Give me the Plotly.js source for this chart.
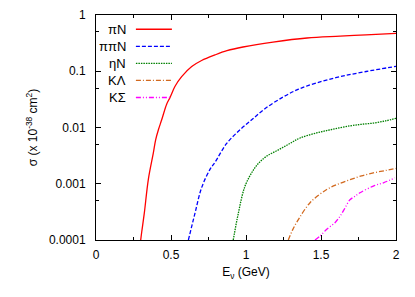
<!DOCTYPE html>
<html>
<head>
<meta charset="utf-8">
<script src="https://cdn.plot.ly/plotly-3.0.1.min.js"></script>
<style>html,body{margin:0;padding:0;background:#fff;}#chart{width:415px;height:297px;}</style>
</head>
<body>
<div id="chart"></div>
<script>
// Series names (legend)
const names = ['πN', 'ππN', 'ηN', 'KΛ', 'KΣ'];
const colors = ['#ff0000', '#0000ff', '#008000', '#d2691e', '#ff00ff'];
const dashes = ['solid', '4px,2px', '1.5px,1px', '5px,2px,1px,2px', '5px,2px,1px,2px,1px,2px'];

// πN
const E_piN = [0.298, 0.305, 0.322, 0.349, 0.382, 0.398, 0.416, 0.438, 0.471, 0.493, 0.527, 0.571, 0.638, 0.704, 0.793, 0.873, 0.98, 1.18, 1.407, 1.627, 1.80, 2.0];
const S_piN = [1e-4, 1.4e-4, 3.0e-4, 1.2e-3, 3.5e-3, 6.1e-3, 9.1e-3, 0.0137, 0.026, 0.034, 0.054, 0.08, 0.121, 0.155, 0.195, 0.232, 0.27, 0.33, 0.39, 0.42, 0.445, 0.47];
// ππN
const E_pipiN = [0.616, 0.66, 0.704, 0.76, 0.793, 0.871, 0.96, 1.038, 1.13, 1.249, 1.35, 1.47, 1.627, 1.80, 2.0];
const S_pipiN = [1e-4, 3.0e-4, 8.5e-4, 1.8e-3, 2.4e-3, 5.2e-3, 9.1e-3, 0.0137, 0.022, 0.035, 0.048, 0.062, 0.08, 0.099, 0.122];
// ηN
const E_etaN = [0.915, 0.949, 0.993, 1.049, 1.093, 1.138, 1.216, 1.293, 1.36, 1.47, 1.58, 1.693, 1.77, 1.85, 1.93, 2.0];
const S_etaN = [1e-4, 3.0e-4, 9.0e-4, 1.75e-3, 2.45e-3, 3.1e-3, 4.0e-3, 5.2e-3, 6.5e-3, 8.0e-3, 9.3e-3, 0.0107, 0.0114, 0.012, 0.0131, 0.0146];
// KΛ
const E_KL = [1.282, 1.31, 1.349, 1.427, 1.538, 1.62, 1.693, 1.77, 1.849, 1.93, 2.0];
const S_KL = [1e-4, 1.5e-4, 2.3e-4, 4.6e-4, 7.9e-4, 1.0e-3, 1.18e-3, 1.38e-3, 1.56e-3, 1.72e-3, 1.87e-3];
// KΣ
const E_KS = [1.46, 1.493, 1.538, 1.593, 1.627, 1.66, 1.693, 1.727, 1.76, 1.849, 1.916, 1.993];
const S_KS = [1e-4, 1.17e-4, 1.55e-4, 2.03e-4, 2.65e-4, 3.7e-4, 5.2e-4, 6.0e-4, 6.9e-4, 9.1e-4, 1.04e-3, 1.27e-3];

// Axis ticks
const xTickVals = [0, 0.5, 1, 1.5, 2];
const xTickText = ['0', '0.5', '1', '1.5', '2'];
const yTickVals = [1, 0.1, 0.01, 0.001, 0.0001];
const yTickText = ['1', '0.1', '0.01', '0.001', '0.0001'];
const yMinorVals = [0.5, 0.05, 0.005, 0.0005];

const xs = [E_piN, E_pipiN, E_etaN, E_KL, E_KS];
const ys = [S_piN, S_pipiN, S_etaN, S_KL, S_KS];

const FONT = 'Liberation Sans, Arial, Helvetica, sans-serif';

const traces = xs.map((x, i) => ({
  x: x, y: ys[i], type: 'scatter', mode: 'lines', name: names[i],
  line: {color: colors[i], width: 1.3, dash: dashes[i], shape: 'spline', smoothing: 1},
  showlegend: false, cliponaxis: true
}));

// custom legend (label left of line sample)
const legTop = 29.3, legStep = 17.1, plotTop = 15, plotH = 225.5;
const annotations = [], shapes = [];
names.forEach((n, i) => {
  const yp = 1 - (legTop + legStep * i - plotTop) / plotH;
  annotations.push({xref: 'paper', yref: 'paper', x: 0.106, y: yp, xanchor: 'right', yanchor: 'middle',
    text: n, showarrow: false, font: {family: FONT, size: 13, color: '#000'}});
  shapes.push({type: 'line', xref: 'paper', yref: 'paper', x0: 0.133, x1: 0.253, y0: yp, y1: yp,
    line: {color: colors[i], width: 1.3, dash: dashes[i]}});
});

const layout = {
  width: 415, height: 297,
  margin: {l: 96, r: 19, t: 15, b: 56.5},
  paper_bgcolor: '#fff', plot_bgcolor: '#fff',
  font: {family: FONT, size: 12, color: '#000'},
  xaxis: {
    range: [0, 2], tickvals: xTickVals, ticktext: xTickText,
    ticks: 'inside', ticklen: 5, tickwidth: 1, tickcolor: '#000',
    showline: true, linecolor: '#000', linewidth: 1, mirror: 'ticks',
    showgrid: false, zeroline: false, ticklabelstandoff: 4,
    minor: {dtick: 0.25, ticks: 'inside', ticklen: 3, tickcolor: '#000', showgrid: false},
    title: {text: 'E<sub>ν</sub> (GeV)', font: {family: FONT, size: 12}, standoff: 6},
    automargin: false
  },
  yaxis: {
    type: 'log', range: [-4, 0], tickvals: yTickVals, ticktext: yTickText,
    ticks: 'inside', ticklen: 5, tickwidth: 1, tickcolor: '#000',
    showline: true, linecolor: '#000', linewidth: 1, mirror: 'ticks',
    showgrid: false, zeroline: false, ticklabelstandoff: 7,
    minor: {tickvals: yMinorVals, ticks: 'inside', ticklen: 3, tickcolor: '#000', showgrid: false},
    title: {text: 'σ (x 10<sup>-38</sup> cm<sup>2</sup>)', font: {family: FONT, size: 12}, standoff: 8},
    automargin: false
  },
  annotations: annotations,
  shapes: shapes,
  showlegend: false
};

Plotly.newPlot('chart', traces, layout, {displayModeBar: false, staticPlot: true});
</script>
</body>
</html>
